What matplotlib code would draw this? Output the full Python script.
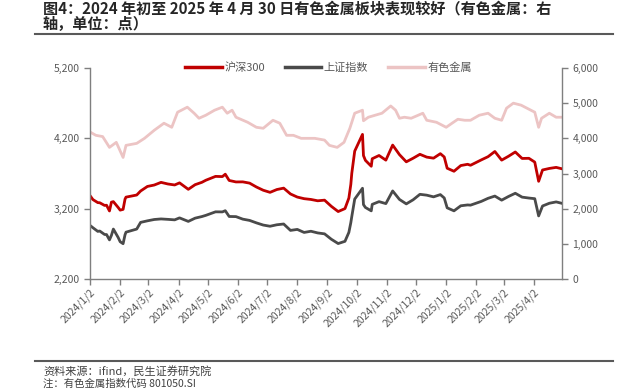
import numpy as np
import pandas as pd
import matplotlib
matplotlib.use("Agg")
import matplotlib.pyplot as plt
from matplotlib.lines import Line2D
from matplotlib.ticker import FuncFormatter

plt.rcParams['font.family'] = ['Noto Sans CJK SC', 'DejaVu Sans']

# 沪深300 / 上证指数 (left axis)
idx_dates = [
    "2024-01-02", "2024-01-05", "2024-01-10", "2024-01-12", "2024-01-17", "2024-01-19",
    "2024-01-22", "2024-01-24", "2024-01-26", "2024-01-31", "2024-02-02", "2024-02-05",
    "2024-02-07", "2024-02-08", "2024-02-19", "2024-02-23", "2024-03-01", "2024-03-08",
    "2024-03-15", "2024-03-22", "2024-03-29", "2024-04-03", "2024-04-12", "2024-04-19",
    "2024-04-26", "2024-04-30", "2024-05-10", "2024-05-17", "2024-05-20", "2024-05-24",
    "2024-05-31", "2024-06-07", "2024-06-14", "2024-06-21", "2024-06-28", "2024-07-05",
    "2024-07-12", "2024-07-19", "2024-07-26", "2024-08-02", "2024-08-09", "2024-08-16",
    "2024-08-23", "2024-08-30", "2024-09-06", "2024-09-13", "2024-09-20", "2024-09-24",
    "2024-09-26", "2024-09-27", "2024-09-30", "2024-10-08", "2024-10-09", "2024-10-11",
    "2024-10-17", "2024-10-18", "2024-10-25", "2024-11-01", "2024-11-08", "2024-11-15",
    "2024-11-22", "2024-11-29", "2024-12-06", "2024-12-13", "2024-12-20", "2024-12-27",
    "2024-12-31", "2025-01-03", "2025-01-10", "2025-01-17", "2025-01-24", "2025-01-27",
    "2025-02-07", "2025-02-14", "2025-02-21", "2025-02-28", "2025-03-07", "2025-03-14",
    "2025-03-21", "2025-03-28", "2025-04-03", "2025-04-07", "2025-04-11", "2025-04-18",
    "2025-04-25", "2025-04-30",
]
hs300 = [
    3386, 3329, 3286, 3284, 3246, 3249, 3167, 3292, 3300, 3216, 3179, 3190,
    3336, 3364, 3394, 3451, 3516, 3536, 3574, 3551, 3537, 3567, 3475, 3541,
    3575, 3604, 3659, 3656, 3690, 3601, 3580, 3581, 3563, 3508, 3462, 3432,
    3472, 3492, 3409, 3365, 3342, 3331, 3312, 3321, 3233, 3159, 3201, 3351,
    3545, 3703, 4018, 4256, 3955, 3887, 3803, 3910, 3956, 3890, 4104, 3968,
    3866, 3917, 3973, 3933, 3918, 3982, 3935, 3775, 3732, 3813, 3831, 3817,
    3893, 3939, 4013, 3890, 3945, 4006, 3914, 3916, 3862, 3589, 3750, 3772,
    3787, 3770,
]
shcomp = [
    2962, 2929, 2877, 2882, 2833, 2832, 2756, 2820, 2910, 2789, 2730, 2702,
    2829, 2866, 2910, 3005, 3027, 3046, 3054, 3048, 3041, 3069, 3019, 3065,
    3088, 3105, 3155, 3154, 3171, 3089, 3087, 3051, 3033, 2998, 2967, 2950,
    2971, 2982, 2891, 2905, 2862, 2879, 2855, 2842, 2765, 2704, 2736, 2863,
    3001, 3088, 3336, 3490, 3258, 3217, 3169, 3261, 3300, 3272, 3452, 3331,
    3268, 3326, 3404, 3392, 3368, 3400, 3352, 3212, 3169, 3241, 3253, 3250,
    3303, 3347, 3379, 3321, 3373, 3419, 3364, 3351, 3342, 3097, 3238, 3277,
    3296, 3279,
]

# 有色金属 (right axis)
nf_dates = [
    "2024-01-02", "2024-01-08", "2024-01-15", "2024-01-22", "2024-01-29", "2024-02-05",
    "2024-02-08", "2024-02-19", "2024-02-27", "2024-03-08", "2024-03-18", "2024-03-26",
    "2024-04-01", "2024-04-11", "2024-04-18", "2024-04-23", "2024-04-30", "2024-05-09",
    "2024-05-17", "2024-05-22", "2024-05-27", "2024-05-31", "2024-06-12", "2024-06-21",
    "2024-06-28", "2024-07-08", "2024-07-15", "2024-07-22", "2024-07-29", "2024-08-06",
    "2024-08-20", "2024-08-30", "2024-09-04", "2024-09-12", "2024-09-19", "2024-09-25",
    "2024-09-30", "2024-10-08", "2024-10-09", "2024-10-14", "2024-10-21", "2024-10-28",
    "2024-11-06", "2024-11-11", "2024-11-15", "2024-11-20", "2024-11-27", "2024-12-09",
    "2024-12-13", "2024-12-23", "2025-01-02", "2025-01-08", "2025-01-14", "2025-01-21",
    "2025-01-27", "2025-02-05", "2025-02-14", "2025-02-21", "2025-02-28", "2025-03-05",
    "2025-03-12", "2025-03-20", "2025-03-26", "2025-04-03", "2025-04-07", "2025-04-10",
    "2025-04-18", "2025-04-25", "2025-04-30",
]
nonferrous = [
    4180, 4086, 4050, 3743, 3886, 3457,
    3800, 3857, 4000, 4229, 4430, 4314,
    4743, 4886, 4714, 4571, 4657, 4800,
    4886, 4714, 4800, 4600, 4457, 4314,
    4286, 4514, 4430, 4086, 4086, 4000,
    4000, 3950, 3800, 3743, 3886, 4286,
    4714, 4800, 4500, 4600, 4657, 4714,
    4920, 4800, 4571, 4600, 4571, 4714,
    4514, 4457, 4314, 4430, 4543, 4514,
    4514, 4657, 4714, 4571, 4514, 4857,
    5000, 4943, 4857, 4743, 4314, 4571,
    4714, 4600, 4600,
]

tick_dates = ["2024-01-02", "2024-02-02", "2024-03-02", "2024-04-02", "2024-05-02",
              "2024-06-02", "2024-07-02", "2024-08-02", "2024-09-02", "2024-10-02",
              "2024-11-02", "2024-12-02", "2025-01-02", "2025-02-02", "2025-03-02",
              "2025-04-02"]

RED = "#C00000"
GRAY = "#4A4A4A"
PINK = "#ECC4C4"
TXT = "#595959"
SPINE = "#7F7F7F"

fig = plt.figure(figsize=(6.21, 3.90), dpi=100)
ax = fig.add_axes([90 / 621, 1 - 279 / 390, 472 / 621, 211 / 390])
ax2 = ax.twinx()
ax.set_zorder(ax2.get_zorder() + 1)
ax.patch.set_visible(False)

x_idx = pd.to_datetime(idx_dates)
x_nf = pd.to_datetime(nf_dates)

ax2.plot(x_nf, nonferrous, color=PINK, lw=2.0, solid_joinstyle='round')
ax.plot(x_idx, shcomp, color=GRAY, lw=2.0, solid_joinstyle='round')
ax.plot(x_idx, hs300, color=RED, lw=2.0, solid_joinstyle='round')

ax.set_ylim(2200, 5200)
ax.set_yticks([2200, 3200, 4200, 5200])
ax2.set_ylim(0, 6000)
ax2.set_yticks(range(0, 6001, 1000))
fmt = FuncFormatter(lambda v, p: f"{int(v):,}")
ax.yaxis.set_major_formatter(fmt)
ax2.yaxis.set_major_formatter(fmt)

ax.set_xlim(pd.Timestamp("2024-01-02"), pd.Timestamp("2025-05-01"))
ticks = pd.to_datetime(tick_dates)
ax.set_xticks(ticks)
ax.set_xticklabels([f"{t.year}/{t.month}/{t.day}" for t in ticks], rotation=45,
                   ha='right', rotation_mode='anchor')

for a in (ax, ax2):
    a.spines['top'].set_visible(False)
    for s in ('left', 'right', 'bottom'):
        a.spines[s].set_color(SPINE)
        a.spines[s].set_linewidth(1.0)
    a.tick_params(colors=TXT, labelsize=7.5, length=4, width=1.0, color=SPINE)
ax.spines['right'].set_visible(False)
ax2.spines['left'].set_visible(False)
ax2.spines['bottom'].set_visible(False)
ax.tick_params(axis='x', pad=2)

handles = [Line2D([], [], color=RED, lw=2.5), Line2D([], [], color=GRAY, lw=2.5),
           Line2D([], [], color=PINK, lw=2.5)]
ax.legend(handles, ["沪深300", "上证指数", "有色金属"], loc='center',
          bbox_to_anchor=(0.505, 1.0), ncol=3, frameon=False, fontsize=8,
          labelcolor=TXT, handlelength=3.3, handletextpad=0.2, columnspacing=1.8)

fig.text(43 / 621, 1 - 8 / 390, "图4：2024 年初至 2025 年 4 月 30 日有色金属板块表现较好（有色金属：右",
         fontsize=10.9, fontweight='bold', color="#262626", va='center', ha='left')
fig.text(43 / 621, 1 - 24 / 390, "轴，单位：点）", fontsize=10.9, fontweight='bold',
         color="#262626", va='center', ha='left')
fig.add_artist(Line2D([35 / 621, 613 / 621], [1 - 34 / 390, 1 - 34 / 390],
                      color="#595959", lw=1.5, transform=fig.transFigure))
fig.add_artist(Line2D([35 / 621, 613 / 621], [1 - 361 / 390, 1 - 361 / 390],
                      color="#595959", lw=1.5, transform=fig.transFigure))
fig.text(43 / 621, 1 - 371 / 390, "资料来源：ifind，民生证券研究院", fontsize=8,
         color="#404040", va='center', ha='left')
fig.text(43 / 621, 1 - 384 / 390, "注：有色金属指数代码 801050.SI", fontsize=7.5,
         color="#404040", va='center', ha='left')

fig.savefig("out.png", dpi=100)
